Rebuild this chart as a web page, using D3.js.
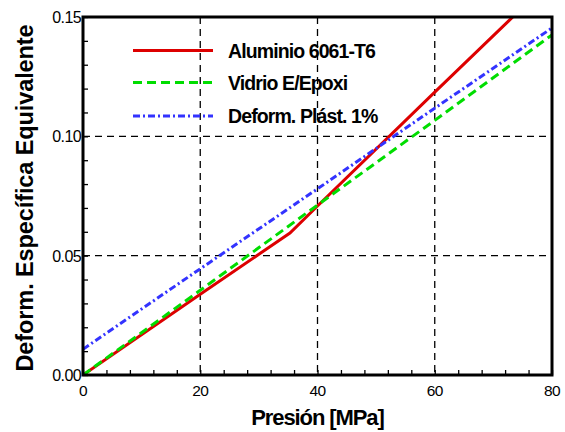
<!DOCTYPE html>
<html lang="es">
<head>
<meta charset="utf-8">
<script src="https://d3js.org/d3.v7.min.js"></script>
<style>
  body { margin: 0; background: #fff; }
  text { font-family: "Liberation Sans", Arial, sans-serif; }
</style>
</head>
<body>
<div id="chart"></div>
<script>
// data
const aluminio = [[0, 0], [20, 0.0338], [35.3, 0.0595], [40, 0.0708], [60, 0.1185], [73.3, 0.15]];
const vidrio = [[0, 0], [20, 0.0355], [40, 0.0712], [60, 0.1067], [80, 0.1425]];
const plastico = [[0, 0.0108], [20, 0.0445], [40, 0.078], [60, 0.1118], [80, 0.1454]];
const xTicks = [0, 20, 40, 60, 80];
const yTicks = [0, 0.05, 0.10, 0.15];
const seriesNames = ["Aluminio 6061-T6", "Vidrio E/Epoxi", "Deform. Plást. 1%"];

var width = 565, height = 432;
var margin = {top: 17, right: 13, bottom: 57, left: 83};
var iw = width - margin.left - margin.right,
    ih = height - margin.top - margin.bottom;

var svg = d3.select("#chart").append("svg")
    .attr("width", width)
    .attr("height", height);

var g = svg.append("g")
    .attr("transform", `translate(${margin.left},${margin.top})`);

var x = d3.scaleLinear().domain([0, 80]).range([0, iw]);
var y = d3.scaleLinear().domain([0, 0.15]).range([ih, 0]);

// dashed grid
g.selectAll(".gx").data([20, 40, 60]).enter().append("line")
  .attr("x1", d => x(d)).attr("x2", d => x(d))
  .attr("y1", 0).attr("y2", ih)
  .attr("stroke", "#000").attr("stroke-width", 1.3)
  .attr("stroke-dasharray", "7,5");
g.selectAll(".gy").data([0.05, 0.10]).enter().append("line")
  .attr("y1", d => y(d)).attr("y2", d => y(d))
  .attr("x1", 0).attr("x2", iw)
  .attr("stroke", "#000").attr("stroke-width", 1.3)
  .attr("stroke-dasharray", "7,5");

// minor ticks (inward)
var xAxis = d3.axisBottom(x).tickValues(d3.range(0, 81, 4)).tickSizeInner(-5).tickSizeOuter(0).tickFormat("");
var yAxis = d3.axisLeft(y).tickValues(d3.range(0, 0.151, 0.01)).tickSizeInner(-5).tickSizeOuter(0).tickFormat("");
g.append("g").attr("transform", `translate(0,${ih})`).call(xAxis)
  .call(a => a.select(".domain").remove())
  .selectAll("line").attr("stroke-width", 1.3);
g.append("g").call(yAxis)
  .call(a => a.select(".domain").remove())
  .selectAll("line").attr("stroke-width", 1.3);

// tick labels
g.selectAll(".xl").data(xTicks).enter().append("text")
  .attr("x", d => x(d)).attr("y", ih + 21)
  .attr("text-anchor", "middle")
  .style("font-size", "15.5px").style("letter-spacing", "-0.5px")
  .text(d => d);
g.selectAll(".yl").data(yTicks).enter().append("text")
  .attr("x", -2).attr("y", d => y(d) + 6)
  .attr("text-anchor", "end")
  .style("font-size", "16px").style("letter-spacing", "-0.6px")
  .text(d => d.toFixed(2));

// lines
var line = d3.line().x(d => x(d[0])).y(d => y(d[1]));
g.append("defs").append("clipPath").attr("id", "clip")
  .append("rect").attr("width", iw).attr("height", ih);

var styles = [
  {data: aluminio, color: "#dd0000", dash: null},
  {data: vidrio, color: "#00dd00", dash: "9,5"},
  {data: plastico, color: "#3333ff", dash: "7,3,2,3"}
];
g.append("g").attr("clip-path", "url(#clip)")
  .selectAll("path").data(styles).enter().append("path")
  .attr("d", d => line(d.data))
  .attr("fill", "none")
  .attr("stroke", d => d.color)
  .attr("stroke-width", 3)
  .attr("stroke-dasharray", d => d.dash);

// frame
g.append("rect").attr("width", iw).attr("height", ih)
  .attr("fill", "none").attr("stroke", "#000").attr("stroke-width", 3);

// legend
var leg = svg.append("g");
styles.forEach(function(s, i) {
  var ly = [50.5, 82.5, 116][i];
  leg.append("line")
    .attr("x1", 133).attr("x2", 213).attr("y1", ly).attr("y2", ly)
    .attr("stroke", s.color).attr("stroke-width", 3)
    .attr("stroke-dasharray", s.dash);
  leg.append("text")
    .attr("x", 228).attr("y", ly + 7)
    .style("font-size", "19.5px").style("font-weight", "bold").style("letter-spacing", "-0.9px")
    .text(seriesNames[i]);
});

// axis titles
svg.append("text")
  .attr("x", margin.left + iw / 2).attr("y", 425)
  .attr("text-anchor", "middle")
  .style("font-size", "22px").style("font-weight", "bold").style("letter-spacing", "-1.1px")
  .text("Presión [MPa]");
svg.append("text")
  .attr("transform", `translate(33,${margin.top + ih / 2 + 2}) rotate(-90)`)
  .attr("text-anchor", "middle")
  .style("font-size", "23.5px").style("font-weight", "bold").style("letter-spacing", "-0.1px")
  .text("Deform. Específica Equivalente");
</script>
</body>
</html>
